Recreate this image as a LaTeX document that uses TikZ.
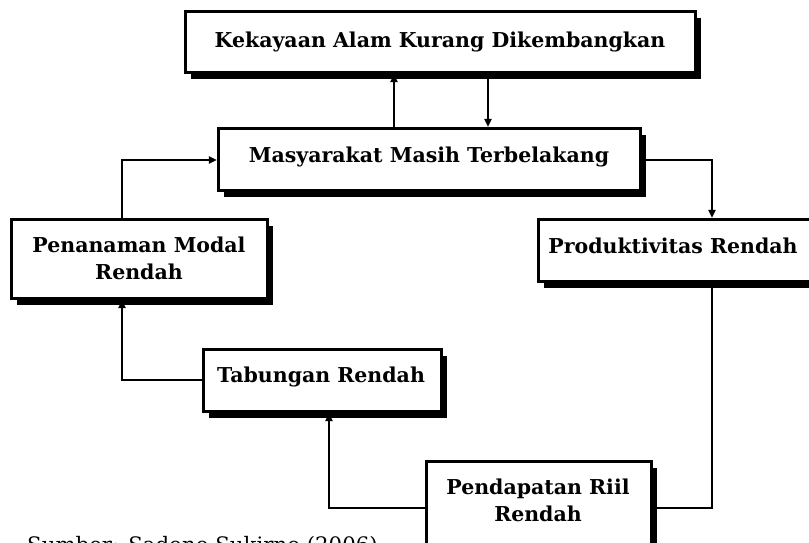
\documentclass[tikz,border=0pt]{standalone}
\usepackage{fontspec}
\setmainfont{DejaVu Serif}
\usetikzlibrary{shadows,arrows.meta}
\begin{document}
\begin{tikzpicture}[x=1pt,y=-1pt,
  box/.style={rectangle, draw=black, line width=3.2pt, fill=white, inner sep=0pt,
    general shadow={fill=black, shadow xshift=5pt, shadow yshift=-6pt}},
  lbl/.style={font=\bfseries\fontsize{20.5}{27}\selectfont, align=center, inner sep=0pt},
  conn/.style={line width=2.8pt},
  arr/.style={conn, -{Triangle[length=8pt,width=7pt]}}]
\useasboundingbox (0,0) rectangle (809,542);
\clip (0,0) rectangle (809,542);
% boxes
\node[box, minimum width=510pt, minimum height=61pt] (top) at (440.5,42) {};
\node[box, minimum width=422pt, minimum height=62pt] (mid) at (429.5,159.5) {};
\node[box, minimum width=256pt, minimum height=79pt] (pen) at (139.5,259) {};
\node[box, minimum width=290pt, minimum height=62pt] (prod) at (683.5,250.5) {};
\node[box, minimum width=238pt, minimum height=62pt] (tab) at (322.5,380.5) {};
\node[box, minimum width=225pt, minimum height=97pt] (pend) at (539,510) {};
% labels
\node[lbl, anchor=base] (ttop) at (440,47) {Kekayaan Alam Kurang Dikembangkan};
\node[lbl, anchor=base] (tmid) at (429,162) {Masyarakat Masih Terbelakang};
\node[lbl] (tpen) at (139,258.5) {Penanaman Modal\\Rendah};
\node[lbl, anchor=base] (tprod) at (673,253) {Produktivitas Rendah};
\node[lbl, anchor=base] (ttab) at (321,382) {Tabungan Rendah};
\node[lbl] (tpend) at (538,500) {Pendapatan Riil\\Rendah};
\node[font=\fontsize{21.3}{24}\selectfont, anchor=base west, inner sep=0pt] (src) at (27,552) {Sumber: Sadono Sukirno (2006)};
% guide coordinates
\coordinate (xa) at (394,0);
\coordinate (xb) at (488,0);
\coordinate (xc) at (122,0);
\coordinate (yd) at (0,160);
\coordinate (xe) at (712,0);
\coordinate (yf) at (0,508);
\coordinate (xg) at (329,0);
\coordinate (yh) at (0,380);
% connectors
\draw[arr] (mid.north -| xa) -- (top.south -| xa);
\draw[arr] (top.south -| xb) -- (mid.north -| xb);
\draw[arr] (pen.north -| xc) |- (mid.west |- yd);
\draw[arr] (mid.east |- yd) -| (prod.north -| xe);
\draw[conn] (prod.south -| xe) |- (pend.east |- yf);
\draw[arr] (pend.west |- yf) -| (tab.south -| xg);
\draw[arr] (tab.west |- yh) -| (pen.south -| xc);
\end{tikzpicture}
\end{document}
